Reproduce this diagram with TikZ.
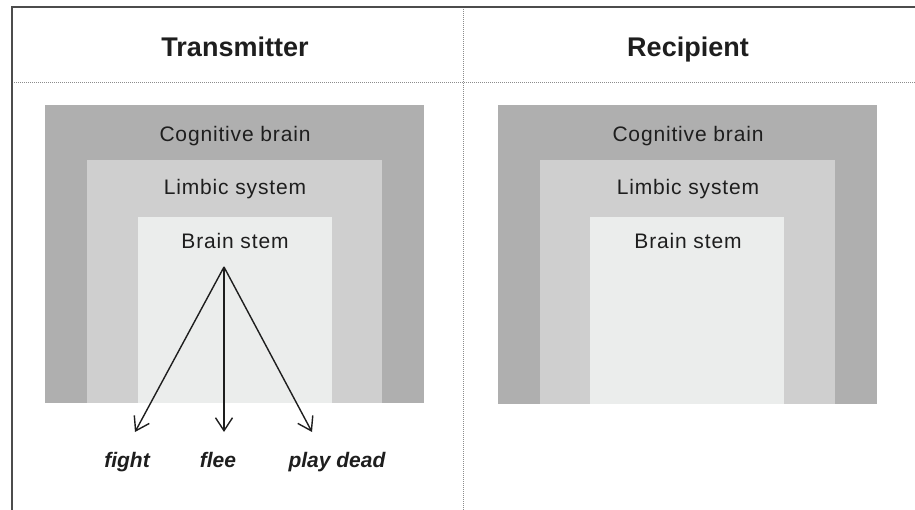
\documentclass[tikz,border=0pt]{standalone}
\usepackage{fontspec}
\setmainfont{Liberation Sans}
\newfontfamily\layerfont[LetterSpace=4]{Liberation Sans}
\usetikzlibrary{arrows.meta}

\definecolor{cortexgray}{HTML}{AFAFAF}
\definecolor{limbicgray}{HTML}{CFCFCF}
\definecolor{stemgray}{HTML}{EBEDEC}
\definecolor{inkgray}{HTML}{1E1E1E}

\tikzset{
  head/.style={anchor=base,font=\fontsize{27}{30}\selectfont\bfseries,text=inkgray},
  layer/.style={anchor=base,font=\layerfont\fontsize{21}{24}\selectfont,text=inkgray},
  reaction/.style={anchor=base,font=\fontsize{21}{24}\selectfont\bfseries\itshape,text=inkgray},
  frame/.style={line width=2pt,draw=black!70},
  divider/.style={line width=0.8pt,draw=black!45,dash pattern=on 1pt off 1pt},
  response/.style={line width=1.4pt,draw=inkgray,-{Straight Barb[length=13pt,width=17pt]}}
}

\begin{document}
\begin{tikzpicture}[x=1pt,y=-1pt]
\useasboundingbox (0,0) rectangle (915,510);

% table lines
\draw [divider](12,82) -- (915,82);
\draw [divider](463,7) -- (463,510);
\draw [frame](12,510) -- (12,7) -- (915,7);

% headings
\node[head] (transmitter) at (235,57) {Transmitter};
\node[head] (recipient) at (688,57) {Recipient};

% transmitter brain
\fill[cortexgray] (45,105) rectangle (424,403);
\fill[limbicgray] (87,160) rectangle (382,403);
\fill[stemgray] (138,217) rectangle (332,403);
\node[layer] (tcog) at (235,142) {Cognitive brain};
\node[layer] (tlimb) at (235,195) {Limbic system};
\node[layer] (tstem) at (235,249) {Brain stem};

% recipient brain
\fill[cortexgray] (498,105) rectangle (877,404);
\fill[limbicgray] (540,160) rectangle (835,404);
\fill[stemgray] (590,217) rectangle (784,404);
\node[layer] (rcog) at (688,142) {Cognitive brain};
\node[layer] (rlimb) at (688,195) {Limbic system};
\node[layer] (rstem) at (688,249) {Brain stem};

% reactions
\coordinate (apex) at (224,267);
\coordinate (fightend) at (135,432);
\coordinate (fleeend) at (224,432);
\coordinate (deadend) at (312,432);
\draw [response](apex) -- (fightend);
\draw [response](apex) -- (fleeend);
\draw [response](apex) -- (deadend);
\node[reaction] (fight) at (127,467) {fight};
\node[reaction] (flee) at (218,467) {flee};
\node[reaction] (dead) at (337,467) {play dead};
\end{tikzpicture}
\end{document}
